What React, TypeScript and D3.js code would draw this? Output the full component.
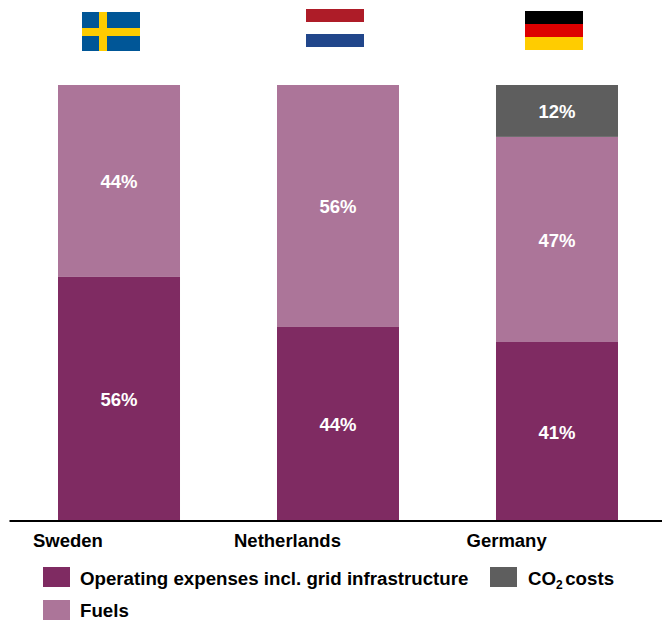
import React from "react";
import * as d3 from "d3";

const countries = ["Sweden", "Netherlands", "Germany"];
const seriesNames = ["Operating expenses incl. grid infrastructure", "Fuels", "CO2 costs"];
const operating = [56.1, 44.5, 41.2];
const fuels = [43.9, 55.5, 46.9];
const co2 = [0, 0, 11.9];
const operatingLabels = ["56%", "44%", "41%"];
const fuelsLabels = ["44%", "56%", "47%"];
const co2Labels = ["", "", "12%"];
const colors = ["#7f2b62", "#ac7599", "#5e5e5e"];

const FONT = "'Liberation Sans', Arial, sans-serif";

const y = d3.scaleLinear().domain([0, 100]).range([521, 85]);
const x = d3.scaleBand().domain(countries).range([58, 618]).paddingInner(0.4429).paddingOuter(0);

const rows = countries.map((c, i) => ({ country: c, operating: operating[i], fuels: fuels[i], co2: co2[i] }));
const stack = d3.stack<any>().keys(["operating", "fuels", "co2"]);
const layers = stack(rows);
const labelSets = [operatingLabels, fuelsLabels, co2Labels];

const countryLabelX = [33, 234, 466.5];

function Flags() {
  return (
    <g shapeRendering="crispEdges">
      <g>
        <rect x={82} y={12} width={58} height={39} fill="#005697" />
        <rect x={98.5} y={12} width={8} height={39} fill="#ffcc00" />
        <rect x={82} y={27.5} width={58} height={8} fill="#ffcc00" />
      </g>
      <g>
        <rect x={306} y={9} width={58} height={13} fill="#ae1c28" />
        <rect x={306} y={34} width={58} height={13} fill="#21468b" />
      </g>
      <g>
        <rect x={525} y={11} width={58} height={13} fill="#000000" />
        <rect x={525} y={24} width={58} height={13} fill="#dd0000" />
        <rect x={525} y={37} width={58} height={13} fill="#ffcc00" />
      </g>
    </g>
  );
}

export default function App() {
  return (
    <svg width={662} height={620} style={{ position: "absolute", left: 0, top: 0, background: "#fff" }} fontFamily={FONT}>
      <Flags />
      {layers.map((layer, s) => (
        <g key={s}>
          {layer.map((d, i) => {
            const h = y(d[0]) - y(d[1]);
            if (h <= 0) return null;
            const bx = x(countries[i])!;
            return (
              <g key={i}>
                <rect x={bx} y={y(d[1])} width={x.bandwidth()} height={h} fill={colors[s]} />
                <text
                  x={bx + x.bandwidth() / 2}
                  y={(y(d[0]) + y(d[1])) / 2}
                  dy="0.4em"
                  textAnchor="middle"
                  fontSize={18.5}
                  fontWeight="bold"
                  fill="#fff"
                >
                  {labelSets[s][i]}
                </text>
              </g>
            );
          })}
        </g>
      ))}
      <line x1={9.5} x2={662} y1={521} y2={521} stroke="#000" strokeWidth={2} />
      {countries.map((c, i) => (
        <text key={c} x={countryLabelX[i]} y={546.5} fontSize={18.5} fontWeight="bold" fill="#000">
          {c}
        </text>
      ))}
      <g fontSize={18.7} fontWeight="bold" fill="#000">
        <rect x={43} y={567} width={27} height={20} fill={colors[0]} />
        <text x={80} y={585}>{seriesNames[0]}</text>
        <rect x={490} y={567} width={27} height={20} fill={colors[2]} />
        <text x={528} y={585}>
          CO<tspan fontSize={12} dy={4}>2</tspan>
          <tspan dy={-4} dx={2.5}>costs</tspan>
        </text>
        <rect x={43} y={600} width={27} height={20} fill={colors[1]} />
        <text x={80} y={617}>{seriesNames[1]}</text>
      </g>
    </svg>
  );
}
